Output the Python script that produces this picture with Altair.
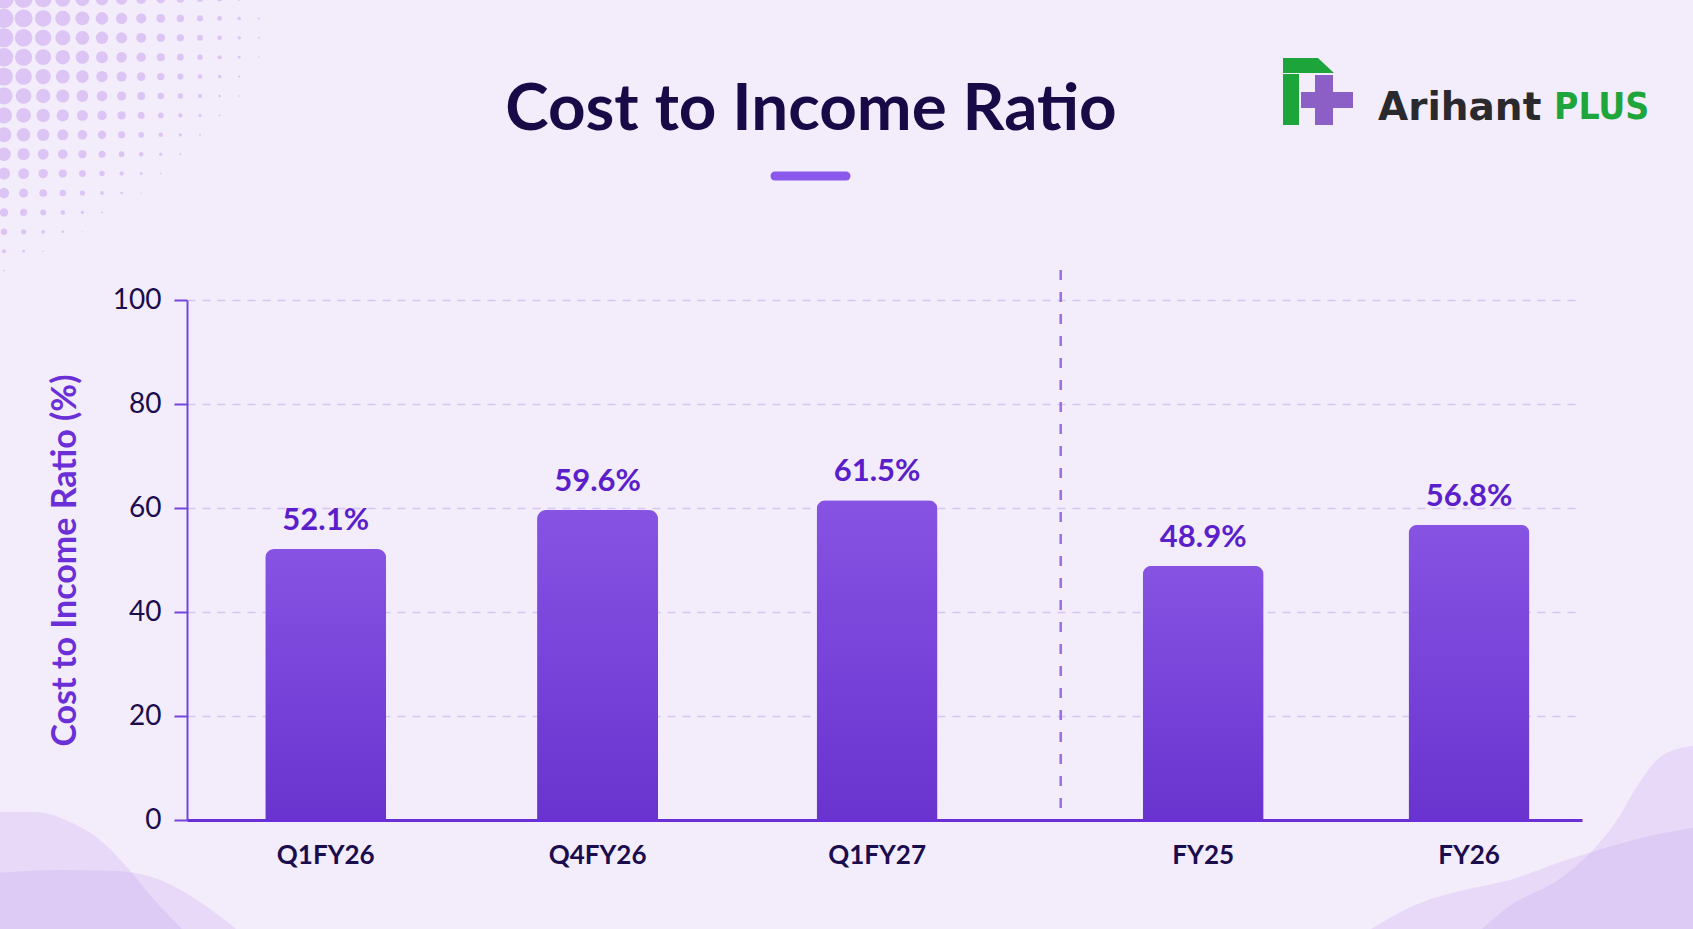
import math

import altair as alt
import numpy as np
import pandas as pd

# ---- data -------------------------------------------------------------
PERIODS = ["Q1FY26", "Q4FY26", "Q1FY27", "FY25", "FY26"]
RATIOS = [52.1, 59.6, 61.5, 48.9, 56.8]
# horizontal slot of each bar: quarters first, then full years after a gap
SLOTS = [-0.012, 0.98, 2.0, 3.19, 4.16]
DIVIDER_SLOT = 2.67
Y_TICKS = [0, 20, 40, 60, 80, 100]

TITLE = "Cost to Income Ratio"
Y_TITLE = "Cost to Income Ratio (%)"

# ---- canvas layout ----------------------------------------------------
W, H = 1693, 929
LEFT, TOP, RIGHT, BOTTOM = 187, 300, 111, 109
PW, PH = W - LEFT - RIGHT, H - TOP - BOTTOM

FONT = "Lato"
BRAND_FONT = "DejaVu Sans"
INK = "#1a0d4d"
PURPLE = "#6a2fd6"
BG = "#f3ecfa"


def px(x):
    return x - LEFT


def py(y):
    return y - TOP


XS = alt.Scale(domain=[-0.5, 4.554], nice=False, zero=False)
YS = alt.Scale(domain=[0, 100], nice=False)

df = pd.DataFrame({"period": PERIODS, "ratio": RATIOS, "slot": SLOTS})

# ---- main chart ---------------------------------------------------------
bar_fill = alt.Gradient(
    gradient="linear",
    stops=[alt.GradientStop(color="#8653e3", offset=0),
           alt.GradientStop(color="#6933cf", offset=1)],
    x1=1, x2=1, y1=0, y2=1,
)

x_axis = alt.Axis(
    orient="bottom", labels=False, ticks=False, grid=False, title=None,
    domain=True, domainColor=PURPLE, domainWidth=3, zindex=1,
)
y_axis = alt.Axis(
    orient="left", values=Y_TICKS, title=Y_TITLE,
    labelFont=FONT, labelFontSize=28, labelColor=INK, labelPadding=13,
    tickSize=13, tickWidth=2, tickColor="#7444dc",
    domainColor="#7444dc", domainWidth=2,
    grid=True, gridDash=[8, 7], gridColor="#d9c5f5", gridWidth=1.5,
    titleFont=FONT, titleFontSize=34, titleFontWeight="bold", titleColor=PURPLE,
    titleAngle=270, titleX=-122, titleY=PH / 2, titleAlign="center",
    titleBaseline="middle",
)

bars = alt.Chart(df).mark_bar(
    size=121, cornerRadiusTopLeft=9, cornerRadiusTopRight=9, color=bar_fill
).encode(
    x=alt.X("slot:Q", scale=XS, axis=x_axis),
    y=alt.Y("ratio:Q", scale=YS, axis=y_axis),
)

value_labels = alt.Chart(df).transform_calculate(
    label="format(datum.ratio, '.1f') + '%'"
).mark_text(
    font=FONT, fontSize=31, fontWeight="bold", color="#5a1fca",
    align="center", baseline="alphabetic", dy=-19,
).encode(
    x=alt.X("slot:Q", scale=XS, axis=x_axis),
    y=alt.Y("ratio:Q", scale=YS, axis=y_axis),
    text="label:N",
)

period_labels = alt.Chart(df).mark_text(
    font=FONT, fontSize=26, fontWeight="bold", color=INK,
    align="center", baseline="middle",
).encode(
    x=alt.X("slot:Q", scale=XS, axis=x_axis),
    y=alt.value(PH + 36),
    text="period:N",
)

divider = alt.Chart(pd.DataFrame({"slot": [DIVIDER_SLOT]})).mark_rule(
    color="#9a6ce6", strokeWidth=2.5, strokeDash=[10, 12]
).encode(
    x=alt.X("slot:Q", scale=XS, axis=x_axis),
    y=alt.value(-30),
    y2=alt.value(PH - 12),
)

main = alt.layer(divider, bars, value_labels, period_labels)

# ---- decoration: halftone dots in the top-left corner -----------------
dots = []
for r in range(16):
    for c in range(16):
        x, y = 4 + 19.6 * c, -1 + 19.4 * r
        d = 22.0 - 0.075 * x - 2.7e-4 * y * y
        if d > 1.2:
            dots.append({"x": px(x), "y": py(y), "s": math.pi * d * d / 4})
dots_layer = alt.Chart(pd.DataFrame(dots)).mark_circle(
    color="#d6bcf3", opacity=0.8
).encode(
    x=alt.X("x:Q", scale=None, axis=None),
    y=alt.Y("y:Q", scale=None, axis=None),
    size=alt.Size("s:Q", scale=None, legend=None),
)

# ---- decoration: soft waves in the bottom corners ---------------------
WAVES = {
    "left_a": [(-5, 812), (35, 812), (70, 822), (100, 840), (125, 865), (150, 895), (182, 929)],
    "left_b": [(-5, 873), (60, 870), (115, 871), (165, 882), (200, 902), (236, 929)],
    "right_b": [(1371, 929), (1420, 903), (1464, 890), (1510, 880), (1555, 864), (1595, 851), (1641, 838), (1698, 827)],
    "right_a": [(1482, 929), (1508, 907), (1561, 878), (1592, 851), (1619, 817), (1636, 788), (1663, 755), (1698, 745)],
}
wave_layers = []
for name, pts in WAVES.items():
    wdf = pd.DataFrame({"x": [px(x) for x, _ in pts], "y": [py(y) for _, y in pts]})
    wave_layers.append(
        alt.Chart(wdf).mark_area(
            color="#c9a8ef", opacity=0.28, interpolate="monotone"
        ).encode(
            x=alt.X("x:Q", scale=None, axis=None),
            y=alt.Y("y:Q", scale=None, axis=None, stack=None),
            y2=alt.value(PH + BOTTOM),
        )
    )

# ---- title and accent line ---------------------------------------------
title_layer = alt.Chart(pd.DataFrame({"t": [TITLE]})).mark_text(
    font=FONT, fontSize=65.5, fontWeight="bold", color="#170a47",
    align="center", baseline="alphabetic",
).encode(text="t:N", x=alt.value(px(811)), y=alt.value(py(130)))

accent_layer = alt.Chart(pd.DataFrame({"a": [0]})).mark_rule(
    color="#8a58ea", strokeWidth=9, strokeCap="round"
).encode(x=alt.value(px(775)), x2=alt.value(px(846)), y=alt.value(py(176)))

# ---- brand mark ---------------------------------------------------------
LOGO_RECTS = pd.DataFrame({
    "x": [px(1283), px(1315), px(1301)],
    "x2": [px(1299), px(1333), px(1353)],
    "y": [py(74), py(75), py(92)],
    "y2": [py(125), py(125), py(108)],
    "fill": ["#1da53c", "#8c5fc6", "#8c5fc6"],
})
logo_rects = alt.Chart(LOGO_RECTS).mark_rect().encode(
    x=alt.X("x:Q", scale=None, axis=None),
    x2="x2:Q",
    y=alt.Y("y:Q", scale=None, axis=None),
    y2="y2:Q",
    color=alt.Color("fill:N", scale=None, legend=None),
)
LOGO_ROOF = pd.DataFrame({
    "x": [px(1283), px(1318), px(1334)],
    "y": [py(58), py(58), py(73)],
    "y2": [py(73), py(73), py(73)],
})
logo_roof = alt.Chart(LOGO_ROOF).mark_area(color="#1da53c", interpolate="linear").encode(
    x=alt.X("x:Q", scale=None, axis=None),
    y=alt.Y("y:Q", scale=None, axis=None, stack=None),
    y2="y2:Q",
)
brand_a = alt.Chart(pd.DataFrame({"t": ["Arihant"]})).mark_text(
    font=BRAND_FONT, fontSize=39, fontWeight="bold", color="#2a2a2e", align="left"
).encode(text="t:N", x=alt.value(px(1378)), y=alt.value(py(108)))
brand_b = alt.Chart(pd.DataFrame({"t": ["PLUS"]})).mark_text(
    font="DejaVu Sans Condensed", fontSize=37, fontWeight="bold", color="#1ea53b", align="left"
).encode(text="t:N", x=alt.value(px(1554)), y=alt.value(py(108)))

decor = alt.layer(
    dots_layer, *wave_layers, title_layer, accent_layer,
    logo_rects, logo_roof, brand_a, brand_b,
)

chart = alt.layer(main, decor).resolve_scale(
    x="independent", y="independent"
).properties(
    width=PW, height=PH,
    padding={"left": LEFT, "top": TOP, "right": RIGHT, "bottom": BOTTOM},
    autosize=alt.AutoSizeParams(type="none"),
    background=BG,
).configure_view(stroke=None)

chart.save("out.html", embed_options={"renderer": "svg", "actions": False})
